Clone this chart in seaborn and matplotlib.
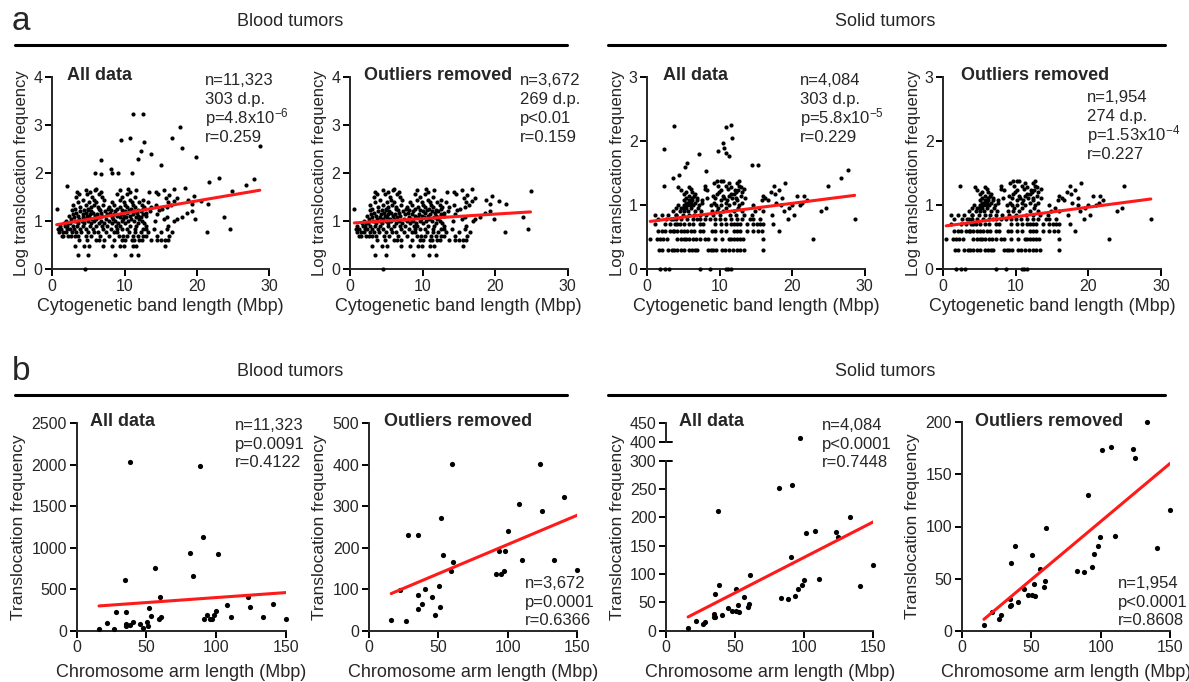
import numpy as np
import pandas as pd
import matplotlib
matplotlib.use("Agg")
import matplotlib.pyplot as plt
import seaborn as sns
from matplotlib.lines import Line2D

# ---- data -----------------------------------------------------------------
# top row: translocations per cytogenetic band, grouped by count -> band lengths (Mbp)
blood_band = {
    1: [4.5],
    2: [3.5, 4.9, 8.7, 10.9, 11.8],
    3: [3.1, 4.4, 5.1, 7.0, 8.3, 9.4, 9.9, 11.1, 11.6, 15.6],
    4: [3.7, 4.8, 6.0, 6.5, 7.1, 8.6, 9.6, 10.1, 11.0, 11.3, 12.0, 12.4, 13.6, 14.5, 15.0, 15.6, 16.0],
    5: [1.3, 1.5, 2.2, 2.6, 3.1, 3.6, 4.7, 5.4, 6.6, 7.9, 9.2, 9.8, 10.4, 11.2, 11.9, 12.6, 13.0, 14.5, 16.2],
    6: [0.9, 1.5, 1.9, 2.7, 3.3, 4.0, 5.0, 5.8, 6.3, 7.4, 8.5, 9.0, 10.6, 11.5, 12.2, 13.3, 15.1, 16.5, 21.4],
    7: [0.8, 1.2, 2.0, 2.4, 3.0, 3.9, 4.6, 5.6, 7.0, 8.1, 8.9, 9.7, 10.3, 11.4, 12.5, 13.0, 14.1, 15.8, 24.6],
    8: [1.0, 1.8, 2.1, 2.8, 3.4, 4.2, 5.2, 6.0, 6.9, 7.6, 8.8, 9.3, 10.7, 11.6, 12.9, 16.0],
    9: [1.6, 2.2, 2.5, 3.6, 4.4, 5.3, 6.4, 7.2, 8.3, 9.1, 10.0, 11.8, 12.7],
    10: [1.9, 3.2, 4.1, 4.9, 5.7, 6.7, 7.8, 8.7, 9.6, 10.5, 11.3, 12.4, 14.2, 16.9],
    11: [2.6, 3.7, 4.5, 5.5, 6.1, 7.4, 8.4, 9.8, 10.9, 12.0, 15.4, 17.2, 19.8],
    12: [3.0, 4.2, 5.1, 6.5, 8.2, 9.4, 10.2, 11.6, 12.3, 15.8, 17.9, 23.8],
    13: [2.3, 3.6, 4.8, 5.9, 6.9, 8.9, 9.9, 10.8, 11.9, 13.0],
    14: [2.9, 4.3, 5.2, 6.2, 7.6, 8.5, 9.5, 11.1, 12.6, 14.5],
    15: [3.3, 4.7, 5.6, 6.8, 8.0, 10.4, 11.7, 12.9, 18.6],
    16: [3.9, 5.4, 7.3, 8.7, 10.0, 11.3, 12.2, 13.5, 19.3],
    17: [2.7, 4.4, 5.0, 6.6, 8.1, 9.7, 10.6, 11.9, 14.8],
    18: [0.6, 3.1, 4.9, 6.4, 7.7, 9.0, 10.9, 12.5, 15.2],
    20: [3.8, 5.3, 6.3, 7.9, 9.4, 10.3, 11.5, 12.7, 13.6, 15.9],
    22: [2.8, 4.6, 5.8, 7.0, 8.6, 10.1, 11.2, 12.4, 14.4, 16.4],
    23: [19.3, 21.5],
    25: [3.5, 5.1, 6.1, 8.3, 9.9, 11.0, 12.0, 13.2, 16.0],
    26: [16.8, 20.5],
    28: [4.2, 5.7, 7.2, 9.3, 10.7, 12.6, 18.8],
    30: [15.7, 17.3],
    32: [3.3, 5.5, 6.9, 9.7, 11.5],
    33: [19.6],
    35: [16.1],
    36: [3.7, 4.8, 6.5, 9.0, 10.4, 14.6],
    40: [3.4, 5.2, 6.7, 10.8, 13.4, 14.4],
    43: [24.9],
    45: [4.6, 5.9, 9.3, 11.6, 15.5],
    47: [6.0, 10.5, 16.8],
    50: [18.3], 55: [2.1], 58: [26.8], 64: [21.7], 74: [27.9], 80: [23.1],
    97: [6.7], 100: [5.9, 8.2, 9.1], 103: [11.0], 123: [8.1], 147: [15.0],
    191: [6.7], 200: [11.8], 214: [19.9], 245: [13.7], 295: [12.3], 338: [18.0],
    372: [28.7], 455: [12.7], 500: [9.5], 540: [16.5], 550: [10.7], 915: [17.6],
    1660: [11.1], 1740: [12.5],
}

solid_band = {
    1: [1.7, 2.4, 3.0, 7.3, 8.6, 10.8, 11.1, 11.5],
    2: [1.6, 2.0, 2.9, 3.4, 3.7, 4.1, 4.6, 5.1, 5.7, 6.1, 6.6, 6.9, 8.4, 8.8, 9.1, 9.5,
        10.3, 10.7, 11.2, 11.8, 12.4, 12.8, 13.3, 15.9],
    3: [0.4, 1.4, 1.7, 2.2, 2.7, 4.1, 4.6, 5.1, 5.4, 5.8, 6.3, 6.7, 7.3, 8.0, 8.4, 9.3,
        10.3, 11.2, 11.5, 11.9, 12.4, 12.8, 13.2, 15.9, 22.9],
    4: [1.5, 2.0, 2.4, 3.1, 3.5, 3.7, 4.1, 4.6, 5.1, 5.5, 6.0, 6.4, 7.3, 7.7, 8.9, 9.3, 10.1,
        10.9, 11.9, 12.4, 12.8, 13.7, 14.6, 15.3, 15.8, 18.1],
    5: [1.1, 2.4, 3.1, 3.8, 4.1, 4.5, 5.1, 5.7, 6.3, 7.2, 7.7, 9.3, 10.1, 10.9, 11.5, 11.9,
        12.4, 12.8, 13.7, 14.6, 15.1, 15.5, 16.0, 17.4],
    6: [1.5, 2.6, 3.3, 3.5, 4.0, 4.7, 5.5, 6.3, 6.8, 7.3, 8.0, 8.7, 9.3, 10.0, 10.7, 11.6, 12.4,
        13.0, 14.2, 14.6, 15.5, 19.4, 28.6],
    7: [1.1, 2.0, 2.9, 3.9, 4.0, 4.9, 5.7, 6.5, 7.2, 8.1, 9.0, 10.0, 11.4, 12.3, 13.3, 14.4,
        17.2, 20.2],
    8: [3.6, 4.5, 5.0, 5.6, 6.6, 7.4, 8.9, 9.6, 10.4, 12.0, 13.0, 14.9, 16.0, 18.9, 23.9],
    9: [3.9, 4.7, 4.9, 5.4, 6.0, 7.0, 9.8, 10.9, 12.5, 15.4, 19.5, 24.6],
    10: [4.2, 5.1, 5.5, 5.9, 6.3, 7.1, 8.8, 9.5, 10.2, 11.3, 12.6, 14.6, 18.5, 19.9, 21.0],
    11: [5.3, 5.6, 6.0, 6.6, 7.5, 9.2, 10.8, 11.9, 13.1, 17.8, 21.4],
    12: [5.1, 5.8, 6.2, 6.8, 7.6, 10.1, 11.0, 12.4, 15.8, 16.6, 22.0],
    13: [5.4, 6.1, 6.9, 8.2, 9.4, 10.6, 11.7, 12.3, 13.5, 16.3, 18.6],
    14: [5.7, 6.4, 9.0, 10.4, 11.3, 12.9, 16.0, 20.6, 21.6],
    15: [5.0, 6.6, 9.6, 11.6, 12.0, 17.6],
    16: [5.3, 6.2, 9.9, 12.2, 13.0, 17.0],
    17: [4.7, 8.3, 10.2, 12.1, 12.5, 18.2],
    18: [6.0, 7.9, 11.1, 13.4],
    19: [4.3, 5.8, 11.6, 12.9],
    20: [2.3, 8.0, 9.8, 10.8, 12.7, 17.5, 24.9],
    22: [9.2, 11.2, 12.4, 19.0],
    24: [9.6, 10.1, 10.5, 12.6],
    27: [3.6, 26.7], 30: [4.4], 34: [8.1], 35: [27.7], 40: [5.2], 42: [14.4],
    43: [15.3], 46: [5.5], 58: [11.3], 63: [7.1], 65: [10.9], 69: [9.7], 75: [2.3],
    78: [10.6], 95: [10.4], 112: [11.7], 166: [10.8], 174: [3.7], 178: [11.5],
}
BLOOD_BAND_CUT = 47   # outliers removed above this count
SOLID_BAND_CUT = 24

# bottom row: translocations per chromosome arm
arm_length = [16.0, 22.0, 27.0, 28.4, 34.7, 35.0, 35.3, 35.5, 37.9, 38.2, 40.2, 45.1,
              47.4, 50.6, 50.9, 51.8, 53.0, 56.4, 59.0, 60.0, 60.6, 81.5, 83.3, 88.3,
              90.8, 91.5, 93.5, 95.2, 97.0, 98.2, 99.8, 101.0, 107.7, 110.5, 123.0,
              124.5, 133.3, 140.5, 150.0]
blood_arm = [25, 98, 23, 231, 615, 52, 85, 231, 2030, 64, 100, 81,
             37, 108, 58, 272, 182, 756, 145, 402, 166, 940, 655, 1990,
             1130, 137, 191, 136, 144, 193, 241, 928, 305, 170, 403,
             288, 171, 323, 146]
solid_arm = [5, 18, 11, 15, 24, 30, 25, 65, 212, 81, 28, 40,
             34, 73, 34, 45, 33, 59, 42, 48, 99, 251, 57, 56,
             130, 258, 61, 74, 411, 81, 90, 173, 176, 91, 174,
             166, 200, 79, 116]
BLOOD_ARM_CUT = 500
SOLID_ARM_CUT = 200

stats = {
    "p1": ["n=11,323", "303 d.p.", "p=4.8x10$^{-6}$", "r=0.259"],
    "p2": ["n=3,672", "269 d.p.", "p<0.01", "r=0.159"],
    "p3": ["n=4,084", "303 d.p.", "p=5.8x10$^{-5}$", "r=0.229"],
    "p4": ["n=1,954", "274 d.p.", "p=1.53x10$^{-4}$", "r=0.227"],
    "p5": ["n=11,323", "p=0.0091", "r=0.4122"],
    "p6": ["n=3,672", "p=0.0001", "r=0.6366"],
    "p7": ["n=4,084", "p<0.0001", "r=0.7448"],
    "p8": ["n=1,954", "p<0.0001", "r=0.8608"],
}


def band_frame(groups, cut=None):
    rows = [(x, c) for c, xs in groups.items() for x in xs if cut is None or c <= cut]
    df = pd.DataFrame(rows, columns=["length", "count"])
    df["freq"] = np.log10(df["count"])
    return df


def arm_frame(counts, cut=None):
    df = pd.DataFrame({"length": arm_length, "freq": counts})
    if cut is not None:
        df = df[df["freq"] <= cut]
    return df


# ---- style ----------------------------------------------------------------
sns.set_style("ticks")
plt.rcParams["font.family"] = ["Liberation Sans", "DejaVu Sans"]
plt.rcParams["mathtext.fontset"] = "custom"
plt.rcParams["mathtext.rm"] = "Liberation Sans"
plt.rcParams["mathtext.default"] = "regular"

W, H = 1189, 682
fig = plt.figure(figsize=(W / 100, H / 100), dpi=100)


def add_ax(x0, x1, ytop, ybot):
    return fig.add_axes([x0 / W, 1 - ybot / H, (x1 - x0) / W, (ybot - ytop) / H])


def fx(x):
    return x / W


def fy(y):
    return 1 - y / H


def style(ax, xticks, yticks, ylim):
    ax.set_xlim(0, xticks[-1])
    ax.set_ylim(*ylim)
    ax.set_xticks(xticks)
    ax.set_yticks(yticks)
    sns.despine(ax=ax)
    for sp in ("left", "bottom"):
        ax.spines[sp].set_linewidth(1.4)
    ax.tick_params(length=5, width=1.4, labelsize=11.5, pad=2, color="black")


def draw(ax, df, s):
    sns.scatterplot(data=df, x="length", y="freq", color="black", s=s, linewidth=0,
                    clip_on=False, zorder=3, ax=ax)
    sns.regplot(data=df, x="length", y="freq", scatter=False, ci=None, color="#ff1a1a",
                line_kws=dict(lw=2.2, zorder=4), ax=ax)


top_y = (77, 269.3)
bot_y = (423.3, 630.7)

# top row
top_panels = [
    (52.3, 269.2, band_frame(blood_band), [0, 1, 2, 3, 4]),
    (350.0, 567.5, band_frame(blood_band, BLOOD_BAND_CUT), [0, 1, 2, 3, 4]),
    (647.3, 864.8, band_frame(solid_band), [0, 1, 2, 3]),
    (943.3, 1161.0, band_frame(solid_band, SOLID_BAND_CUT), [0, 1, 2, 3]),
]
for x0, x1, df, yt in top_panels:
    ax = add_ax(x0, x1, *top_y)
    draw(ax, df, 9)
    style(ax, [0, 10, 20, 30], yt, (0, yt[-1]))
    ax.set_xlabel("Cytogenetic band length (Mbp)", fontsize=13, labelpad=3)
    ax.set_ylabel("Log translocation frequency", fontsize=12, labelpad=3)

# bottom row
arm_ticks = [0, 50, 100, 150]
ax5 = add_ax(76.7, 286.0, *bot_y)
draw(ax5, arm_frame(blood_arm), 14)
style(ax5, arm_ticks, range(0, 2501, 500), (0, 2500))

ax6 = add_ax(369.0, 577.3, *bot_y)
draw(ax6, arm_frame(blood_arm, BLOOD_ARM_CUT), 14)
style(ax6, arm_ticks, range(0, 501, 100), (0, 500))

# broken y axis for solid / all data
solid_all = arm_frame(solid_arm)
ax7 = add_ax(666.0, 873.3, 460.7, 630.7)
sns.scatterplot(data=solid_all[solid_all["freq"] <= 300], x="length", y="freq", color="black",
                s=14, linewidth=0, clip_on=False, zorder=3, ax=ax7)
sns.regplot(data=solid_all, x="length", y="freq", scatter=False, ci=None, color="#ff1a1a",
            line_kws=dict(lw=2.2, zorder=4), ax=ax7)
style(ax7, arm_ticks, range(0, 301, 50), (0, 300))
ax7.plot([-0.03, 0.03], [1, 1], transform=ax7.transAxes, color="black", lw=1.4, clip_on=False)

ax7u = add_ax(666.0, 873.3, 423.3, 442.3)
sns.scatterplot(data=solid_all[solid_all["freq"] >= 400], x="length", y="freq", color="black",
                s=14, linewidth=0, clip_on=False, zorder=3, ax=ax7u)
style(ax7u, arm_ticks, [400, 450], (400, 450))
ax7u.spines["bottom"].set_visible(False)
ax7u.tick_params(axis="x", bottom=False, labelbottom=False)
ax7u.set_xlabel("")
ax7u.set_ylabel("")
ax7u.plot([-0.03, 0.03], [0, 0], transform=ax7u.transAxes, color="black", lw=1.4, clip_on=False)

ax8 = add_ax(961.7, 1170.0, 422.3, 630.7)
draw(ax8, arm_frame(solid_arm, SOLID_ARM_CUT), 14)
style(ax8, arm_ticks, range(0, 201, 50), (0, 200))

for ax in (ax5, ax6, ax7, ax8):
    ax.set_xlabel("Chromosome arm length (Mbp)", fontsize=13, labelpad=6)
    ax.set_ylabel("Translocation frequency", fontsize=12.5, labelpad=4)
ax7.yaxis.set_label_coords(-0.2, 0.61)

# panel titles
titles = [(67, 76, "All data"), (364, 76, "Outliers removed"), (663, 76, "All data"),
          (961, 76, "Outliers removed"), (90, 422, "All data"), (384, 422, "Outliers removed"),
          (679, 422, "All data"), (975, 422, "Outliers removed")]
for x, y, t in titles:
    fig.text(fx(x), fy(y), t, fontsize=13, fontweight="bold", va="center", ha="left")

# statistics, one text per line (baseline aligned) so superscripts keep the spacing even
stat_pos = {"p1": (205, 85, 19), "p2": (520, 85, 19), "p3": (800, 85, 19), "p4": (1087, 102, 19),
            "p5": (235, 430, 18.5), "p6": (525, 588, 18.5), "p7": (822, 430, 18.5),
            "p8": (1118, 588, 18.5)}
for k, (x, y, step) in stat_pos.items():
    for i, line in enumerate(stats[k]):
        fig.text(fx(x), fy(y + i * step), line, fontsize=12, va="baseline", ha="left")

# group headers
for y_txt, y_line, letter in ((22, 45, "a"), (372, 395, "b")):
    fig.text(fx(12), fy(y_txt), letter, fontsize=24, va="center", ha="left")
    fig.text(fx(290), fy(y_txt), "Blood tumors", fontsize=13, va="center", ha="center")
    fig.text(fx(885), fy(y_txt), "Solid tumors", fontsize=13, va="center", ha="center")
    for a, b in ((15, 567), (608, 1165)):
        fig.add_artist(Line2D([fx(a), fx(b)], [fy(y_line), fy(y_line)], color="black",
                              lw=2.2, transform=fig.transFigure))

fig.savefig("out.png", dpi=100)
